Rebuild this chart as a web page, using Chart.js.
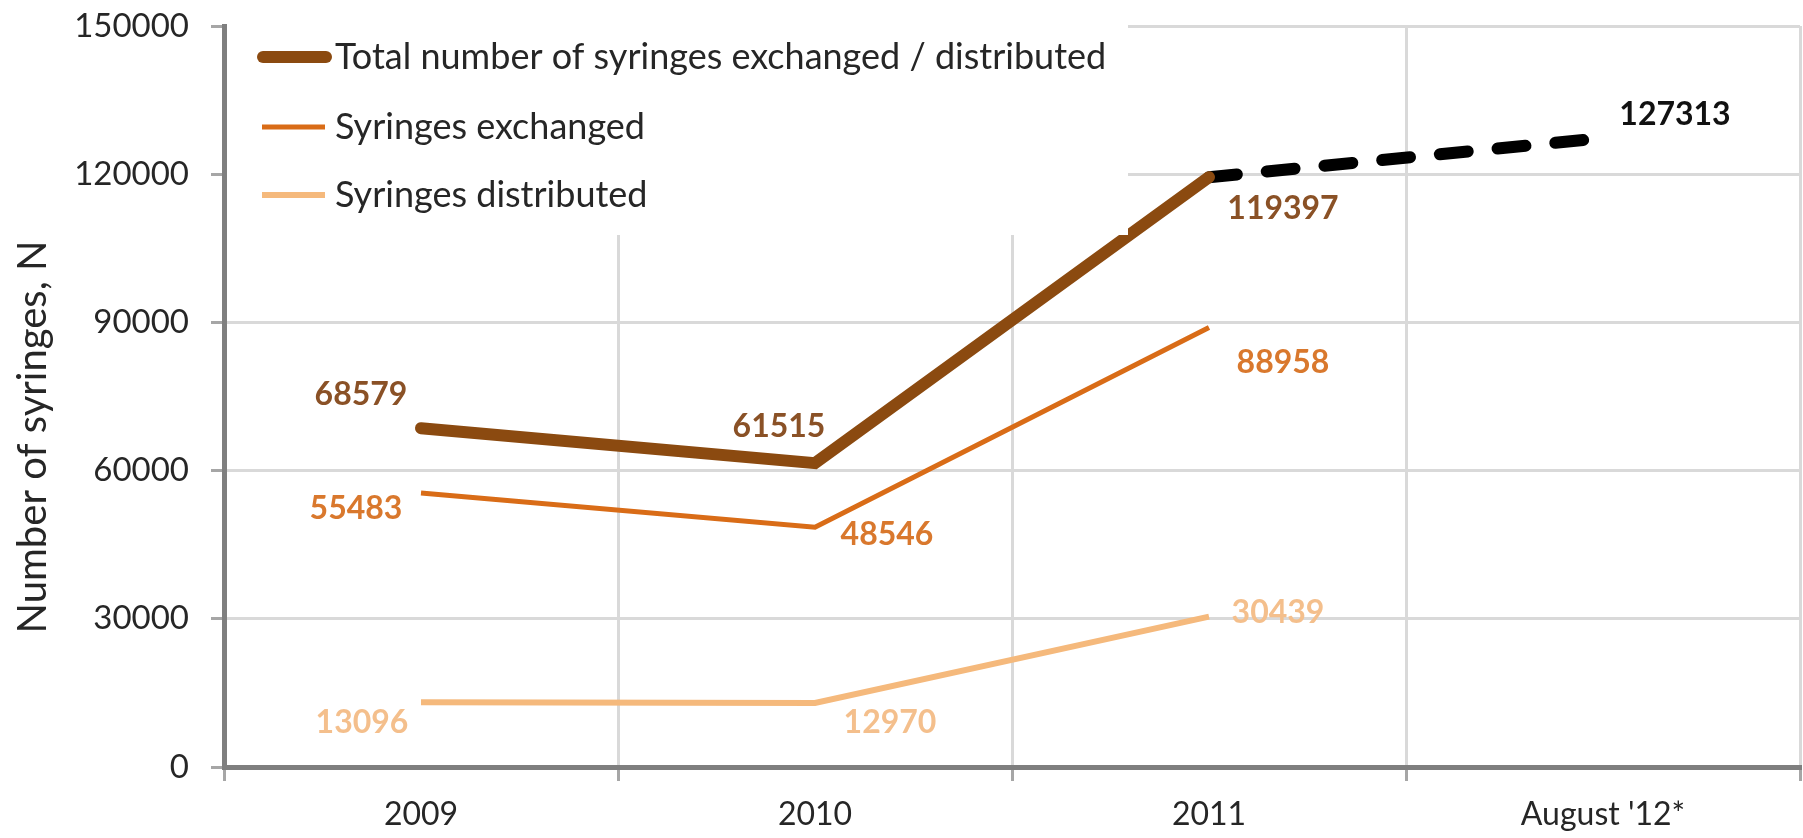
<!DOCTYPE html>
<html>
<head>
<meta charset="utf-8">
<title>Syringes exchanged / distributed</title>
<script src="https://cdn.jsdelivr.net/npm/chart.js@4.4.1/dist/chart.umd.min.js"></script>
<style>
  html, body { margin: 0; padding: 0; background: #ffffff; }
  canvas { display: block; }
</style>
</head>
<body>
<canvas id="syringesChart" width="1803" height="838"></canvas>
<script>
// chart data
const categories = ['2009', '2010', '2011', "August '12*"];
const totalSyringes = [68579, 61515, 119397, null];
const projectedTotal = [null, null, 119397, 127313];
const syringesExchanged = [55483, 48546, 88958, null];
const syringesDistributed = [13096, 12970, 30439, null];
const yTicks = [0, 30000, 60000, 90000, 120000, 150000];
const yTitle = 'Number of syringes, N';

const FONT = 'Lato, "Open Sans", sans-serif';

// value labels next to the points (offsets are [dx, dy] from the point)
const pointLabels = {
  id: 'pointLabels',
  afterDatasetsDraw(chart) {
    const ctx = chart.ctx;
    ctx.save();
    ctx.font = 'bold 32px ' + FONT;
    ctx.textAlign = 'center';
    ctx.textBaseline = 'middle';
    chart.data.datasets.forEach((ds, i) => {
      if (!ds.labelOffsets) return;
      const meta = chart.getDatasetMeta(i);
      meta.data.forEach((pt, j) => {
        const off = ds.labelOffsets[j];
        const v = ds.data[j];
        if (!off || v === null) return;
        ctx.fillStyle = ds.labelColor;
        ctx.fillText(String(v), pt.x + off[0], pt.y + off[1]);
      });
    });
    ctx.restore();
  }
};

// legend box inside the plot area, top left
const insideLegend = {
  id: 'insideLegend',
  afterDatasetsDraw(chart) {
    const ctx = chart.ctx;
    const area = chart.chartArea;
    ctx.save();
    ctx.fillStyle = '#ffffff';
    ctx.fillRect(area.left + 3, area.top - 4, 1128 - area.left - 3, 235 - area.top + 4);
    ctx.font = '36px ' + FONT;
    ctx.textBaseline = 'middle';
    ctx.textAlign = 'left';
    const rows = [57, 127, 195];
    chart.data.datasets.filter(ds => !ds.hideInLegend).forEach((ds, k) => {
      const y = rows[k];
      ctx.strokeStyle = ds.borderColor;
      ctx.lineWidth = ds.borderWidth;
      ctx.lineCap = ds.borderCapStyle || 'butt';
      ctx.beginPath();
      if (ctx.lineCap === 'round') {
        ctx.moveTo(area.left + 39, y);
        ctx.lineTo(area.left + 102, y);
      } else {
        ctx.moveTo(area.left + 38, y);
        ctx.lineTo(area.left + 101, y);
      }
      ctx.stroke();
      ctx.fillStyle = '#262626';
      ctx.fillText(ds.label, area.left + 111, y);
    });
    ctx.restore();
  }
};

// rotated y axis title, sitting a little below the middle like the original
const yAxisTitle = {
  id: 'yAxisTitle',
  afterDraw(chart) {
    const ctx = chart.ctx;
    ctx.save();
    ctx.translate(33, 437);
    ctx.rotate(-Math.PI / 2);
    ctx.font = '40px ' + FONT;
    ctx.fillStyle = '#262626';
    ctx.textAlign = 'center';
    ctx.textBaseline = 'middle';
    ctx.fillText(yTitle, 0, 0);
    ctx.restore();
  }
};

const ctx = document.getElementById('syringesChart').getContext('2d');
new Chart(ctx, {
  type: 'line',
  data: {
    labels: categories,
    datasets: [
      {
        label: 'Total number of syringes exchanged / distributed',
        data: totalSyringes,
        borderColor: '#8b4a10',
        borderWidth: 12,
        borderCapStyle: 'round',
        labelColor: '#8a5126',
        labelOffsets: [[-60, -34], [-36, -36], [74, 32], null],
      },
      {
        label: 'Projection',
        data: projectedTotal,
        borderColor: '#000000',
        borderWidth: 12,
        borderDash: [28, 30],
        borderCapStyle: 'round',
        hideInLegend: true,
        labelColor: '#111111',
        labelOffsets: [null, null, null, [72, -23]],
      },
      {
        label: 'Syringes exchanged',
        data: syringesExchanged,
        borderColor: '#d96c17',
        borderWidth: 5,
        labelColor: '#d9782d',
        labelOffsets: [[-65, 16], [72, 8], [74, 35], null],
      },
      {
        label: 'Syringes distributed',
        data: syringesDistributed,
        borderColor: '#f5b97c',
        borderWidth: 6,
        labelColor: '#f4bf8c',
        labelOffsets: [[-59, 20], [75, 20], [69, -4], null],
      },
    ],
  },
  options: {
    responsive: false,
    animation: false,
    layout: { padding: { top: 26, right: 3, left: 0, bottom: 0 } },
    elements: {
      point: { radius: 0, hoverRadius: 0 },
      line: { tension: 0 },
    },
    scales: {
      x: {
        offset: true,
        grid: {
          offset: true,
          color: '#d9d9d9',
          lineWidth: 3,
          tickColor: '#a6a6a6',
          tickLength: 14,
        },
        border: { color: '#7f7f7f', width: 5 },
        ticks: {
          color: '#262626',
          font: { family: FONT, size: 32 },
          padding: 14,
          maxRotation: 0,
        },
        afterFit(scale) { scale.height = 71; },
      },
      y: {
        min: 0,
        max: 150000,
        afterBuildTicks(scale) { scale.ticks = yTicks.map(v => ({ value: v })); },
        grid: {
          color: '#d9d9d9',
          lineWidth: 3,
          tickColor: '#a6a6a6',
          tickLength: 13,
        },
        border: { color: '#7f7f7f', width: 5 },
        ticks: {
          color: '#262626',
          font: { family: FONT, size: 33 },
          padding: 22,
          callback: v => String(v),
        },
        afterFit(scale) {
          scale.width = 224;
          scale.paddingTop = 0;
          scale.paddingBottom = 0;
        },
      },
    },
    plugins: {
      legend: { display: false },
      tooltip: { enabled: false },
    },
  },
  plugins: [insideLegend, pointLabels, yAxisTitle],
});
</script>
</body>
</html>
